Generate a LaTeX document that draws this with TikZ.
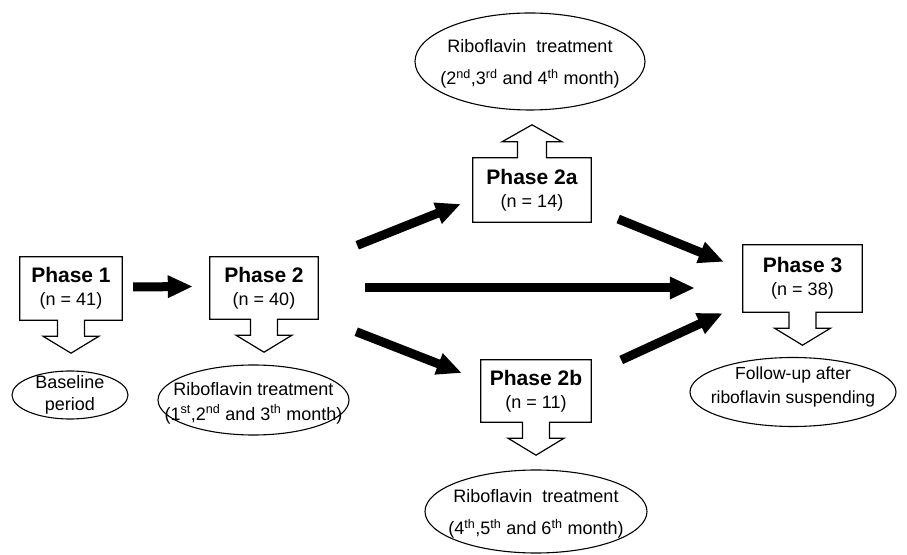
\documentclass[tikz,border=0pt]{standalone}
\usepackage{fontspec}
\setmainfont{Liberation Sans}
\usetikzlibrary{positioning}
\usetikzlibrary{arrows.meta}

\tikzset{
  phasebox/.style={inner sep=0pt, align=center, font=\fontsize{18}{23}\selectfont},
  ovaltext/.style={inner sep=0pt, align=center},
  oval/.style={line width=1.1pt},
  callout/.style={line width=1.2pt},
  bigarrow/.style={line width=9pt, -{Triangle[width=21pt,length=25pt]}},
}
\newcommand{\phasetext}[2]{{\bfseries\fontsize{21}{23}\selectfont Phase #1}\\(n = #2)}
% box with a hollow arrow under it
\newcommand{\calldown}[1]{%
  \draw[callout] ([xshift=-13.5pt]#1.south) -- (#1.south west) -- (#1.north west)
    -- (#1.north east) -- (#1.south east) -- ([xshift=13.5pt]#1.south)
    -- ++(0,-16) -- ++(14.5,0) -- ++(-28,-17) -- ++(-28,17) -- ++(14.5,0) -- cycle;}

\begin{document}
\begin{tikzpicture}[x=1pt, y=1pt]
        \useasboundingbox (0,0) rectangle (907,554);
        \node [phasebox, minimum width=102pt, minimum height=63pt] (p1) at (71, 265.5) {\phasetext{1}{41}};
        \node [phasebox, minimum width=108pt, minimum height=62pt] (p2) at (264, 266) {\phasetext{2}{40}};
        \node [phasebox, minimum width=118pt, minimum height=64pt] (p2a) at (532, 364) {\phasetext{2a}{14}};
        \node [phasebox, minimum width=110pt, minimum height=62pt] (p2b) at (536, 163) {\phasetext{2b}{11}};
        \node [phasebox, minimum width=119pt, minimum height=67pt] (p3) at (802.5, 275.5) {\phasetext{3}{38}};
        \calldown{p1}
        \calldown{p2}
        \calldown{p2b}
        \calldown{p3}
        \draw[callout] ([xshift=14.5pt]p2a.north) -- (p2a.north east) -- (p2a.south east)
          -- (p2a.south west) -- (p2a.north west) -- ([xshift=-14.5pt]p2a.north)
          -- ++(0,16) -- ++(-15.5,0) -- ++(30,17) -- ++(30,-17) -- ++(-15.5,0) -- cycle;
        \node [ovaltext, font=\fontsize{18}{22}\selectfont] (base) at (70, 159) {Baseline\\period};
        \node [ovaltext, font=\fontsize{18}{25}\selectfont] (rib2) at (253.5, 151) {Riboflavin treatment\\(1\textsuperscript{st},2\textsuperscript{nd} and 3\textsuperscript{th} month)};
        \node [ovaltext, font=\fontsize{18}{32}\selectfont] (rib2a) at (530, 490) {Riboflavin~ treatment\\(2\textsuperscript{nd},3\textsuperscript{rd} and 4\textsuperscript{th} month)};
        \node [ovaltext, font=\fontsize{18}{32}\selectfont] (rib2b) at (536, 40) {Riboflavin~ treatment\\(4\textsuperscript{th},5\textsuperscript{th} and 6\textsuperscript{th} month)};
        \node [ovaltext, font=\fontsize{17.5}{24}\selectfont] (follow) at (793, 167) {Follow-up after\\riboflavin suspending};
        \draw[oval] (base) ellipse [x radius=58, y radius=24];
        \draw[oval] (rib2.center) ++(0,3) ellipse [x radius=95.5, y radius=35];
        \draw[oval] (rib2a.center) ++(0,2.5) ellipse [x radius=115, y radius=48.5];
        \draw[oval] (rib2b.center) ++(0,2.5) ellipse [x radius=111, y radius=41.5];
        \draw[oval] (follow.center) ++(0,-5) ellipse [x radius=103, y radius=34.5];
        \draw[bigarrow] ([shift={(11,1.5)}]p1.east) -- ([shift={(-17,1.5)}]p2.west);
        \draw[bigarrow] ([shift={(39,11.5)}]p2.north east) -- ([shift={(-12,-14)}]p2a.west);
        \draw[bigarrow] ([shift={(47,0)}]p2.east) -- ([shift={(-48,-9.5)}]p3.west);
        \draw[bigarrow] ([shift={(38,-12.5)}]p2.south east) -- ([shift={(-19,18)}]p2b.west);
        \draw[bigarrow] ([shift={(27,-29)}]p2a.east) -- ([shift={(-19,-17)}]p3.north west);
        \draw[bigarrow] ([shift={(30,31)}]p2b.east) -- ([shift={(-20,-1)}]p3.south west);
      \end{tikzpicture}
\end{document}
